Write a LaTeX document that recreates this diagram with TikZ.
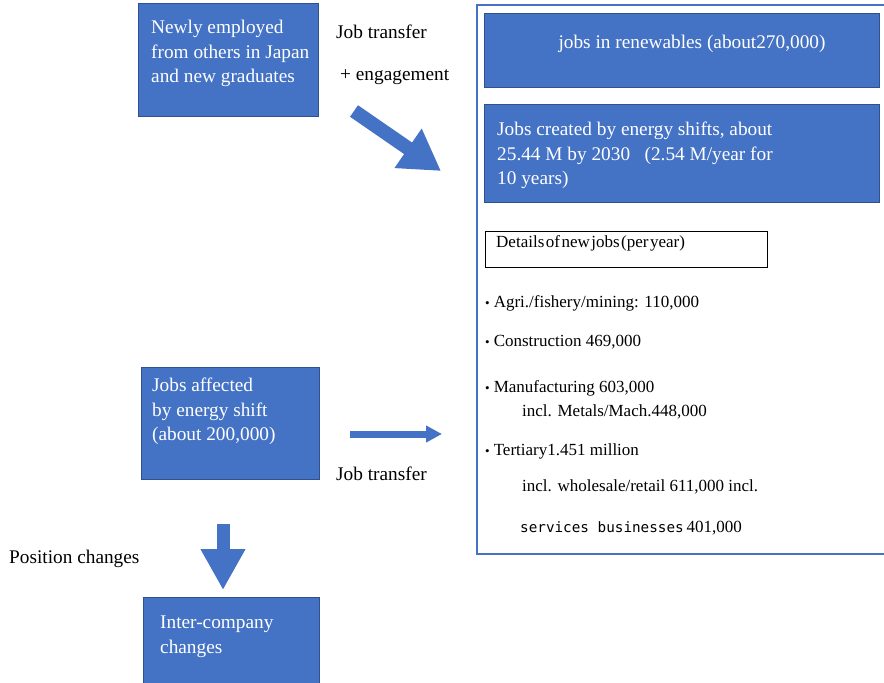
\documentclass[tikz,border=0pt]{standalone}
\usepackage{fontspec}
\setmainfont{Liberation Serif}
\newfontfamily\gothic{DejaVu Sans Mono}
\usetikzlibrary{positioning, arrows.meta}
\definecolor{boxblue}{HTML}{4472C4}
\definecolor{edgeblue}{HTML}{2F528F}
\newcommand{\dotmark}{{\fontsize{13}{13}\selectfont\textbullet}\hspace{4pt}}

\begin{document}
\begin{tikzpicture}[x=1pt,y=-1pt,
    bluebox/.style={draw=edgeblue,fill=boxblue,line width=1pt,anchor=north west,inner sep=0pt},
    boxtext/.style={anchor=north west,text=white,align=left,inner sep=0pt,font=\fontsize{19.3}{24.5}\selectfont},
    plain/.style={anchor=west,inner sep=0pt,font=\fontsize{19.3}{22}\selectfont},
    item/.style={anchor=west,inner sep=0pt,font=\fontsize{17}{20}\selectfont},
    blockarrow/.style={draw=boxblue,-{Triangle[length=40pt,width=45pt]}}]
    \useasboundingbox (0,0) rectangle (884,683);

    % boxes on the left
    \node[bluebox,minimum width=180pt,minimum height=113pt] (newly) at (138,3) {};
    \node[boxtext] (newlyT) at (151,20) {Newly employed\\from others in Japan\\and new graduates};
    \node[bluebox,minimum width=178pt,minimum height=112pt] (affected) at (141,367) {};
    \node[boxtext] (affectedT) at (152,378) {Jobs affected\\by energy shift\\(about 200,000)};
    \node[bluebox,minimum width=176pt,minimum height=100pt] (inter) at (143,597) {};
    \node[boxtext] (interT) at (160,616) {Inter-company\\changes};

    % frame with the new jobs
    \node[draw=boxblue,line width=2pt,anchor=north west,inner sep=0pt,minimum width=412pt,minimum height=549pt] (frame) at (476,4) {};
    \node[bluebox,minimum width=395pt,minimum height=74pt] (renew) at (484,13) {};
    \node[text=white,inner sep=0pt,font=\fontsize{19.3}{22}\selectfont] (renewT) at (692,44) {jobs in renewables (about270,000)};
    \node[bluebox,minimum width=395pt,minimum height=98pt] (created) at (484,104) {};
    \node[boxtext] (createdT) at (497,122) {Jobs created by energy shifts, about\\25.44 M by 2030 \ \ (2.54 M/year for\\10 years)};
    \node[draw=black,line width=0.8pt,anchor=north west,inner sep=0pt,minimum width=282pt,minimum height=36pt] (details) at (485,231) {};
    \node[item] (detailsT) at (496,243) {\spaceskip=1.5pt\relax Details of new jobs (per year)};

    \node[item] (agri) at (485,303) {\dotmark Agri./fishery/mining: 110,000};
    \node[item] (constr) at (485,342) {\dotmark Construction 469,000};
    \node[item] (manuf) at (485,388) {\dotmark Manufacturing 603,000};
    \node[item] (metals) at (522,412) {incl. Metals/Mach.448,000};
    \node[item] (tert) at (485,451) {\dotmark Tertiary1.451 million};
    \node[item] (retail) at (522,487) {incl. wholesale/retail 611,000 incl.};
    \node[item] (serv) at (520,528) {{\gothic\fontsize{14.3}{18}\selectfont services businesses}\,401,000};

    % arrows and their labels
    \coordinate (diagS) at (354,111);
    \coordinate (diagE) at (441,171);
    \draw[blockarrow,line width=14pt] (diagS) -- (diagE);
    \node[plain] (transfer1) at (336,32) {Job transfer};
    \node[plain] (engage) at (340,77) {+ engagement};

    \coordinate (rightS) at (350,434);
    \coordinate (rightE) at (442,434);
    \draw[draw=boxblue,line width=7pt,-{Triangle[length=16pt,width=16pt]}] (rightS) -- (rightE);
    \node[plain] (transfer2) at (336,474) {Job transfer};

    \coordinate (downS) at (223,524);
    \coordinate (downE) at (223,590);
    \draw[draw=boxblue,line width=13pt,-{Triangle[length=41pt,width=42pt]}] (downS) -- (downE);
    \node[plain] (position) at (9,559) {Position changes};
\end{tikzpicture}
\end{document}
